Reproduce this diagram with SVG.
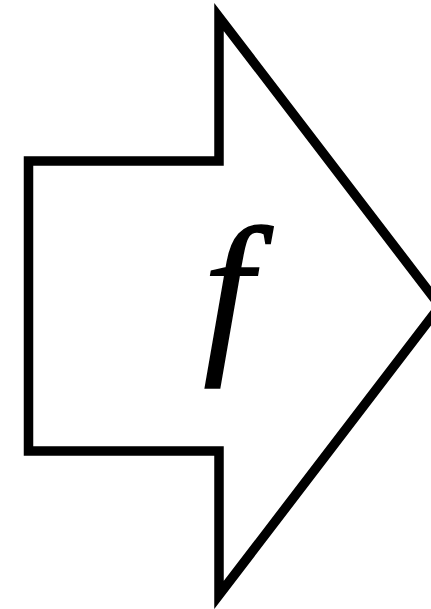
<svg xmlns="http://www.w3.org/2000/svg" width="431" height="609" viewBox="0 0 431 609">
<style>
.shape{fill:none;stroke:#000;stroke-width:9.5;stroke-linejoin:miter;stroke-miterlimit:10}
.lbl{font-family:"Liberation Serif","DejaVu Serif",serif;font-style:italic;font-size:178px;fill:#000;stroke:#000;stroke-width:1.5}
</style>
<rect width="431" height="609" fill="#fff"/>
<g id="arrow">
<polygon class="shape" points="28.5,161 219,161 219,17 440,306 219,595 219,451 28.5,451"/>
<text class="lbl" x="228" y="350" text-anchor="middle">f</text>
</g>
</svg>
